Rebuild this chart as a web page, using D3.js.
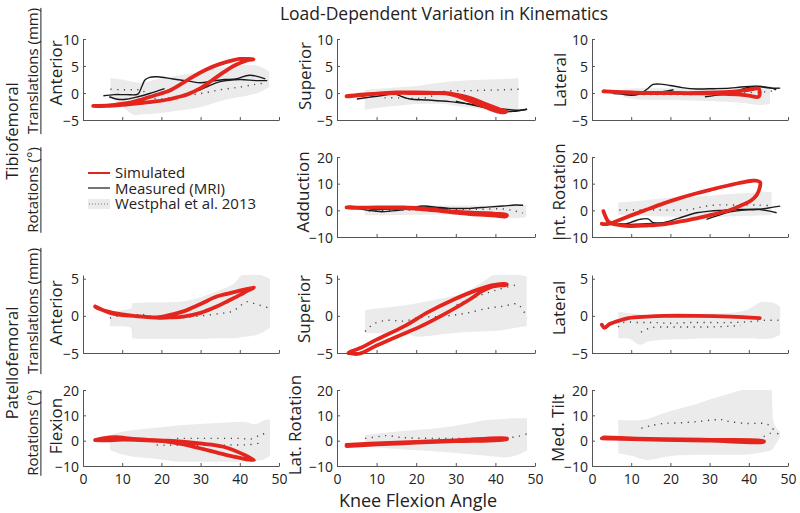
<!DOCTYPE html>
<html><head><meta charset="utf-8">
<script src="https://cdn.jsdelivr.net/npm/d3@7"></script>
<style>
body{margin:0;background:#fff}
svg{display:block}
text{font-family:"Open Sans",sans-serif;fill:#222}
</style>
</head><body><svg id="c" width="800" height="513"></svg>
<script>
// ---------- tick labels ----------
const xTicks = [0,10,20,30,40,50];
const yTicksTrans1 = [-5,0,5,10];
const yTicksRot = [-10,0,10,20];
const yTicksTrans2 = [-5,0,5];

// ---------- Tibiofemoral Anterior ----------
const tfAntBand = [[7,-0.7,2.8],[10,-2.5,2.5],[13.5,-4.1,2.0],[15,-4.0,1.9],[18.6,-3.8,2.5],[24,-3.3,3.2],[30,-2.6,4.0],[36,-1.3,4.8],[43,-0.3,5.2],[45.5,0.3,4.8],[47.5,1.1,4.0]];
const tfAntMean = [[7,0.7],[10,0.6],[13,0.6],[15,0.5],[17,-0.7],[19,-1.1],[25,-0.6],[30,-0.1],[35,0.6],[40,1.1],[44,1.6],[47,1.9]];
const tfAntMeas1 = [[5.2,-0.5],[8,-0.3],[11,-0.3],[14,-0.2],[15,1.2],[15.8,2.4],[17,2.9],[19,3.0],[23,2.6],[27,2.2],[30,1.9],[33,2.2],[36,2.5],[39,2.6],[42.5,3.3],[46.5,2.6]];
const tfAntMeas2 = [[6.7,-0.7],[8.5,-1.1],[10.4,-1.2],[14,-0.7],[17,-0.1],[20.8,0.8]];
const tfAntMeas3 = [[29.6,0.5],[32,1.3],[35,2.1],[40,2.5],[44,2.3],[47,2.3]];
const tfAntSim = [[2.6,-2.4],[6,-2.4],[10,-2.2],[14,-1.9],[18,-1.6],[21.3,-1.25],[24,-0.8],[26.5,-0.3],[30,0.9],[33.2,2.5],[36,3.9],[38.4,5.0],[40.5,5.7],[42,6.1],[43.5,6.25],[42,6.3],[40,6.3],[38.4,6.1],[35,5.4],[31.6,4.4],[28,3.0],[25.6,1.9],[22,0.4],[18,-0.5],[15,-1.2],[12,-1.8],[8,-2.2],[4,-2.4],[2.6,-2.4]];

// ---------- Tibiofemoral Superior ----------
const tfSupBand = [[7,-3.1,0.6],[12,-2.6,0.9],[17,-2.2,1.1],[22,-2.0,1.5],[26,-2.0,1.9],[30,-2.4,2.2],[34.5,-2.8,2.4],[38,-3.2,2.5],[42,-3.7,2.6],[45.8,-3.4,2.8]];
const tfSupMean = [[12,-0.9],[16,-0.9],[20,-1.0],[23,-0.8],[27,0.3],[32,0.4],[37,0.5],[42,0.6],[46,0.7]];
const tfSupMeas1 = [[5,-1.1],[8,-0.8],[11,-0.5],[14.6,-0.2],[16.5,-0.7],[18.4,-1.1],[23,-1.3],[28.5,-1.6],[33,-2.0],[37,-2.4],[40,-2.8],[43.7,-3.1],[46,-3.2],[48,-3.0]];
const tfSupMeas2 = [[30,-1.5],[34,-2.2],[38,-2.8],[41.5,-3.4],[44.5,-3.4],[48,-3.0]];
const tfSupSim = [[2.4,-0.6],[6,-0.3],[10,-0.1],[15,0],[20,0],[23.5,0],[27,0],[30,-0.3],[33.5,-0.9],[36,-1.6],[38.5,-2.3],[41,-3.0],[42.8,-3.4],[42,-3.6],[40,-3.3],[37.5,-2.6],[35,-1.9],[32,-1.0],[28.5,-0.2],[25,0],[20,0.1],[15,0.1],[10,-0.1],[6,-0.4],[3,-0.6]];

// ---------- Tibiofemoral Lateral ----------
const tfLatBand = [[8,-0.8,0.8],[12.7,-1.25,0.9],[20,-1.3,0.9],[30,-1.5,1.0],[38,-1.8,1.1],[43,-2.2,1.1],[45.4,-2.0,0.9]];
const tfLatMean = [[8,-0.3],[15,-0.3],[22,-0.3],[30,-0.2],[38,0],[44,0.2],[47,0.5]];
const tfLatMeas1 = [[4.6,0.5],[7,0],[9.3,-0.4],[12,-0.2],[14,0.7],[15.6,1.6],[18,1.6],[19.9,1.4],[23,1.0],[26.7,0.75],[31,0.8],[35.2,0.9],[38,1.1],[42,1.25],[45.4,0.9],[48,0.9]];
const tfLatMeas2 = [[5.4,-0.1],[9,-0.2],[12,-0.2],[16,0],[20.8,0.6]];
const tfLatMeas3 = [[28.8,-0.7],[32,-0.4],[35.2,0],[38,0.6],[40.3,1.1],[43,1.2],[45.4,1.0],[47,0.6]];
const tfLatSim = [[2.9,0.3],[6,0.2],[10,0.1],[15,0],[20,0],[26.7,0],[32,0.1],[36.9,0.3],[40,0.6],[42.5,0.8],[42.8,0.2],[42.5,-0.7],[40,-0.5],[37,-0.25],[32,-0.1],[25,-0.05],[18,0],[10,0.05],[5,0.2],[3,0.3]];

// ---------- Tibiofemoral Adduction ----------
const tfAddBand = [[7,-1.8,1.5],[12,-1.8,1.6],[20,-1.7,1.8],[28,-1.6,1.8],[35,-1.8,1.8],[42,-2.2,1.8],[45,-3.0,2.0],[47.8,-2.5,2.0]];
const tfAddMean = [[8,-0.3],[15,0],[22,0.2],[30,0.3],[36,0.4],[42,0.5],[45,-0.3],[47,-1.0]];
const tfAddMeas1 = [[5,0.75],[8,0],[10.9,-0.5],[14,-0.2],[16.8,0.3],[19,1.0],[21.9,1.6],[25,1.2],[28.5,0.75],[33.5,0.75],[38,1.2],[41.9,1.6],[45,2.0],[47,1.9]];
const tfAddMeas2 = [[8.2,0.1],[12,0.4],[16,0.6],[20,1.0],[24,0.9],[28,0.5]];
const tfAddSim = [[2.4,1.1],[5,0.9],[10,1.1],[16.8,1.1],[21,0.75],[25,0.2],[29.5,-0.5],[33,-0.8],[37.9,-1.1],[40,-1.3],[42.9,-1.75],[42.5,-2.3],[40,-2.0],[36,-1.6],[31,-1.0],[26,-0.2],[21,0.5],[15,0.9],[10,1.0],[5,1.0],[3,1.2]];

// ---------- Tibiofemoral Int. Rotation ----------
const tfIntBand = [[6.7,-1.75,2.9],[12,-2.0,3.5],[18.3,-2.3,4.5],[24,-2.5,5.0],[28.3,-2.6,5.4],[31,-2.5,5.7],[36,-2.2,6.2],[41,-2.0,6.6],[45.8,-1.75,7.0]];
const tfIntMean = [[7,0.1],[12,0.1],[17,0.1],[22,0.1],[25,0.3],[28,1.3],[32,2.0],[37,2.0],[42,2.0],[45,1.8]];
const tfIntMeas1 = [[3.7,-5.1],[6,-5.0],[8.8,-5.0],[10.5,-4.2],[12.2,-3.4],[14.3,-3.2],[15.6,-4.6],[18,-4.8],[20.7,-5.0]];
const tfIntMeas2 = [[4,-5.2],[10,-5.3],[14,-5.0],[18.2,-4.6],[22,-3.0],[26.7,-0.9],[30,-0.3],[33.5,0],[38,0.3],[42,0.4],[45,-0.2],[47.1,-0.9]];
const tfIntMeas3 = [[29.2,-3.4],[32,-2.0],[35.2,-0.6],[38,0],[42,0.3],[45,0.9],[48,1.6]];
const tfIntSim = [[2.9,-0.3],[3.5,-2.5],[4.2,-4.3],[6,-5.3],[9.7,-5.9],[14,-5.7],[18.2,-5.25],[22,-4.3],[26.7,-3.0],[31,-1.5],[35.2,0.1],[38,1.8],[40.5,3.6],[42,5.7],[42.8,8.5],[42.9,10.5],[42,11.1],[40.9,11.1],[38,10.4],[35.2,9.5],[31,8.0],[26.7,6.4],[22,4.4],[18.3,2.6],[14,0.3],[10,-1.9],[7,-3.6],[4.6,-4.9],[3,-5.2],[2.5,-5.0]];

// ---------- Patellofemoral Anterior ----------
const pfAntBand = [[6.9,-1.4,0.6],[10,-1.4,0.8],[12.3,-1.6,1.0],[12.6,-3.0,1.7],[16,-3.1,1.8],[20,-3.1,1.8],[25,-3.1,1.9],[30,-3.1,2.5],[35,-3.0,3.5],[38.6,-3.0,4.4],[41,-2.8,5.6],[44,-2.6,5.6],[47.7,-1.6,5.0]];
const pfAntMean = [[6.9,-0.3],[9,0],[12.9,0.1],[15,0.2],[18,-0.1],[21.7,-0.3],[26,-0.2],[30,0],[34.7,0.3],[38,0.6],[39.8,1.2],[41.6,1.9],[44,1.6],[47.8,1.0]];
const pfAntSim = [[3.1,1.25],[5,0.8],[6.9,0.4],[10,0.1],[12.9,0],[15,-0.1],[18.8,-0.25],[22,-0.2],[25.6,-0.1],[30,0.4],[34.1,1.25],[37,2.0],[40.2,2.85],[42,3.4],[43.6,3.8],[42.7,3.7],[40,3.4],[37,3.0],[34.1,2.6],[30,1.6],[25.6,0.6],[22,0.1],[18.8,-0.2],[15,-0.1],[12.9,0],[10,0.2],[6.9,0.5],[4,1.0],[3.1,1.25]];

// ---------- Patellofemoral Superior ----------
const pfSupBand = [[7.1,-2.3,0.8],[12,-2.3,1.1],[16.8,-2.3,1.4],[20.2,-2.8,1.7],[26,-2.5,2.3],[32,-2.2,3.1],[36,-2.1,4.3],[40.4,-2.0,5.6],[44,-1.7,5.6],[47.9,-1.4,5.3]];
const pfSupMean = [[7.1,-2.1],[9.2,-1.1],[12.6,-0.6],[16.8,-0.7],[21,-0.2],[25,-0.1],[29.5,0.1],[33,0.4],[37.9,1.0],[42,1.3],[45.5,1.6],[46.7,1.0],[48,-0.3]];
const pfSupMean2 = [[30.2,1.5],[35.3,2.6],[40.4,3.5],[45.5,4.2]];
const pfSupSim = [[2.9,-5.0],[5.6,-5.1],[10,-4.0],[15.5,-2.7],[21,-1.45],[27,0.2],[33.5,2.2],[36.5,3.3],[39,3.9],[42.9,4.2],[42.2,4.3],[39,4.1],[35.4,3.5],[29.5,2.2],[23,0.5],[16.8,-1.45],[10,-3.2],[6,-4.3],[3.5,-4.8],[2.9,-5.0]];

// ---------- Patellofemoral Lateral ----------
const pfLatBand = [[6.7,-3.0,0.6],[9,-3.0,0.4],[12.4,-3.9,0.2],[14,-3.5,0.1],[18.2,-3.2,0.1],[25,-3.1,0.2],[30,-3.0,0.3],[35.2,-3.0,0.4],[40,-3.0,0.9],[43.6,-3.1,1.9],[46,-3.0,1.8],[48,-2.5,1.2]];
const pfLatMean = [[6.7,-1.5],[8,-0.9],[12,-0.9],[16,-0.9],[20,-1.0],[25,-0.9],[30,-0.9],[35,-0.9],[40,-0.8],[44,-0.6],[48,-0.6]];
const pfLatMean2 = [[12.5,-2.2],[15,-1.6],[20,-1.5],[25,-1.5],[30,-1.5],[35,-1.4],[38,-1.3]];
const pfLatSim = [[2.5,-1.2],[3.2,-1.6],[4.5,-1.1],[6,-0.8],[9.3,-0.3],[14,-0.1],[18.3,0],[26.7,0],[35.2,-0.1],[42.8,-0.3]];

// ---------- Patellofemoral Flexion ----------
const pfFlxBand = [[6.9,-3.7,2.2],[10,-5.5,3.5],[12.9,-6.3,4.2],[18,-7.0,5.0],[25.5,-8.3,6.2],[32,-8.3,6.8],[40.9,-8.3,7.5],[44,-8.0,6.5],[46,-7.5,8.0],[47.7,-6.0,8.4]];
const pfFlxMean = [[24,0.9],[28,0.9],[32,0.9],[36,0.9],[40,0.9],[43,0.7],[45.5,2.5],[47.7,3.0]];
const pfFlxMean2 = [[18.8,-1.7],[22,-1.8],[26,-1.8],[30,-1.8],[34,-1.8],[38,-1.7],[42,-1.6],[46,-0.8]];
const pfFlxSim = [[3.1,0.2],[5,0.9],[8.3,1.4],[12.9,0.7],[19.7,0.1],[23.8,-0.2],[29.8,-1.1],[35.8,-2.4],[41.2,-5.6],[43.6,-7.6],[42.5,-7.5],[38.4,-6.3],[34,-4.6],[29.8,-3.0],[25,-1.3],[21,-0.3],[15,0.2],[10,0.4],[6,0.1],[3.1,0.2]];

// ---------- Patellofemoral Lat. Rotation ----------
const pfLrotBand = [[7.1,-2.4,2.2],[12.6,-3.0,3.2],[18,-3.6,4.0],[25.3,-4.3,4.9],[32,-5.2,6.5],[37.9,-6.0,8.2],[42,-6.6,8.6],[45,-6.0,8.8],[48,-3.9,8.8]];
const pfLrotMean = [[7.1,0.9],[10,1.5],[12.6,2.0],[16,1.3],[20,1.0],[25,0.9],[30,0.9],[35,0.9],[40,1.0],[44,1.3],[46,1.8],[48,2.7]];
const pfLrotSim = [[2.4,-1.7],[10,-1.1],[20,-0.5],[30,0.1],[42.9,0.9],[42.9,0.6],[30,-0.2],[20,-0.8],[10,-1.5],[2.4,-2.1]];

// ---------- Patellofemoral Med. Tilt ----------
const pfTiltBand = [[6.7,-5.0,8.2],[10,-6.0,8.0],[13.9,-7.6,8.5],[18.2,-6.5,10.8],[22,-5.8,12.5],[26.7,-5.6,14.5],[31,-5.6,16.7],[35,-5.6,18.5],[38.6,-5.6,20],[42,-5.0,20],[45.8,-3.7,20],[46.2,-3.0,8],[48,1.5,3.5]];
const pfTiltMean = [[12.6,4.9],[15,5.9],[18.2,6.8],[22,7.0],[26.7,7.5],[31,8.2],[33,8.3],[35.2,7.5],[39.5,6.8],[43.8,6.8],[45.4,5.9],[47.1,3.0],[48,2.3]];
const pfTiltMean2 = [[43.8,1.6],[45.5,2.9],[47,3.2]];
const pfTiltSim = [[2.5,0.9],[5,0.8],[10,0.6],[18.2,0.3],[30,0],[43.8,-0.5],[43.8,-0.2],[30,0.3],[18,0.6],[10,0.9],[3,1.3]];

// ---------- layout ----------
const colsX = [[83,279],[337,535],[592,788]];
const rowsY = [
  {top:39, bot:120, dom:[-5,10], ticks:yTicksTrans1},
  {top:157, bot:237, dom:[-10,20], ticks:yTicksRot},
  {top:275, bot:353, dom:[-5,5.5], ticks:yTicksTrans2},
  {top:390, bot:466, dom:[-10,20], ticks:yTicksRot}
];
const panels = [
  {r:0,c:0,label:"Anterior",lx:56,ly:73,band:tfAntBand,mean:[tfAntMean],meas:[tfAntMeas1,tfAntMeas2,tfAntMeas3],sim:tfAntSim},
  {r:0,c:1,label:"Superior",lx:305,ly:76,band:tfSupBand,mean:[tfSupMean],meas:[tfSupMeas1,tfSupMeas2],sim:tfSupSim},
  {r:0,c:2,label:"Lateral",lx:560,ly:80,band:tfLatBand,mean:[tfLatMean],meas:[tfLatMeas1,tfLatMeas2,tfLatMeas3],sim:tfLatSim},
  {r:1,c:1,label:"Adduction",lx:303,ly:192,band:tfAddBand,mean:[tfAddMean],meas:[tfAddMeas1,tfAddMeas2],sim:tfAddSim},
  {r:1,c:2,label:"Int. Rotation",lx:559,ly:192,band:tfIntBand,mean:[tfIntMean],meas:[tfIntMeas1,tfIntMeas2,tfIntMeas3],sim:tfIntSim},
  {r:2,c:0,label:"Anterior",lx:56,ly:313,band:pfAntBand,mean:[pfAntMean],meas:[],sim:pfAntSim},
  {r:2,c:1,label:"Superior",lx:304,ly:309,band:pfSupBand,mean:[pfSupMean,pfSupMean2],meas:[],sim:pfSupSim},
  {r:2,c:2,label:"Lateral",lx:559,ly:308,band:pfLatBand,mean:[pfLatMean,pfLatMean2],meas:[],sim:pfLatSim},
  {r:3,c:0,label:"Flexion",lx:56,ly:426,band:pfFlxBand,mean:[pfFlxMean,pfFlxMean2],meas:[],sim:pfFlxSim},
  {r:3,c:1,label:"Lat. Rotation",lx:295,ly:425,band:pfLrotBand,mean:[pfLrotMean],meas:[],sim:pfLrotSim},
  {r:3,c:2,label:"Med. Tilt",lx:558,ly:428,band:pfTiltBand,mean:[pfTiltMean,pfTiltMean2],meas:[],sim:pfTiltSim}
];

const RED = "#e3251d", BAND = "#ebebeb", AX = "#555";
const svg = d3.select("#c");

panels.forEach((p,i) => {
  const row = rowsY[p.r], cx = colsX[p.c];
  const x = d3.scaleLinear().domain([0,50]).range(cx);
  const y = d3.scaleLinear().domain(row.dom).range([row.bot,row.top]);
  const g = svg.append("g");
  const cid = "clip"+i;
  svg.append("clipPath").attr("id",cid).append("rect")
    .attr("x",cx[0]).attr("y",row.top).attr("width",cx[1]-cx[0]).attr("height",row.bot-row.top);
  const area = d3.area().x(d=>x(d[0])).y0(d=>y(d[1])).y1(d=>y(d[2])).curve(d3.curveMonotoneX);
  g.append("path").datum(p.band).attr("d",area).attr("fill",BAND).attr("clip-path",`url(#${cid})`);
  const line = d3.line().x(d=>x(d[0])).y(d=>y(d[1])).curve(d3.curveCatmullRom.alpha(0.5));
  p.mean.forEach(m => g.append("path").datum(m).attr("d",line).attr("fill","none")
    .attr("stroke","#444").attr("stroke-width",1.4).attr("stroke-dasharray","1.2,5.5"));
  p.meas.forEach(m => g.append("path").datum(m).attr("d",line).attr("fill","none")
    .attr("stroke","#1a1a1a").attr("stroke-width",1.4));
  g.append("path").datum(p.sim).attr("d",line).attr("fill","none")
    .attr("stroke",RED).attr("stroke-width",3.8).attr("stroke-linejoin","round").attr("stroke-linecap","round");

  // axes
  const ya = g.append("g").attr("transform",`translate(${cx[0]},0)`)
    .call(d3.axisLeft(y).tickValues(row.ticks).tickSize(-3).tickSizeOuter(0).tickPadding(4));
  const xa = g.append("g").attr("transform",`translate(0,${row.bot})`)
    .call(d3.axisBottom(x).tickValues(xTicks).tickSize(-3).tickSizeOuter(0).tickPadding(8)
      .tickFormat(p.r===3 ? d3.format("d") : ""));
  [ya,xa].forEach(a => {
    a.select(".domain").attr("stroke",AX);
    a.selectAll(".tick line").attr("stroke",AX);
    a.selectAll("text").attr("font-size",14).attr("fill","#222").attr("font-family","Open Sans, sans-serif");
  });
  ya.selectAll("text").attr("dy","0.36em");

  g.append("text").attr("transform",`translate(${p.lx},${p.ly}) rotate(-90)`)
    .attr("text-anchor","middle").attr("dy","0.36em").attr("font-size",17).text(p.label);
});

// title and x label
svg.append("text").attr("x",444).attr("y",19.5).attr("text-anchor","middle").attr("font-size",17.5)
  .text("Load-Dependent Variation in Kinematics");
svg.append("text").attr("x",418).attr("y",507).attr("text-anchor","middle").attr("font-size",18)
  .text("Knee Flexion Angle");

// group labels
function vlabel(txt, cx, cy, size, underline){
  const t = svg.append("text").attr("transform",`translate(${cx},${cy}) rotate(-90)`)
    .attr("text-anchor","middle").attr("dy","0.36em").attr("font-size",size).text(txt);
  if(underline){
    const len = t.node().getComputedTextLength();
    const ux = cx + 0.36*size + 2.5;
    svg.append("line").attr("x1",ux).attr("x2",ux).attr("y1",cy-len/2).attr("y2",cy+len/2)
      .attr("stroke","#222").attr("stroke-width",1);
  }
}
vlabel("Tibiofemoral",12.5,131,16.5,false);
vlabel("Translations (mm)",33,71,15,true);
vlabel("Rotations (°)",33,190,15,true);
vlabel("Patellofemoral",12.5,363,16.5,false);
vlabel("Translations (mm)",33,311,15,true);
vlabel("Rotations (°)",33,433,15,true);

// legend
const leg = svg.append("g");
leg.append("line").attr("x1",88).attr("x2",110).attr("y1",173).attr("y2",173).attr("stroke",RED).attr("stroke-width",2);
leg.append("line").attr("x1",88).attr("x2",110).attr("y1",188).attr("y2",188).attr("stroke","#1a1a1a").attr("stroke-width",1.2);
leg.append("rect").attr("x",88).attr("y",199).attr("width",22).attr("height",10).attr("fill",BAND);
leg.append("line").attr("x1",89).attr("x2",110).attr("y1",204).attr("y2",204).attr("stroke","#777")
  .attr("stroke-width",1).attr("stroke-dasharray","1,2");
leg.append("text").attr("x",115).attr("y",178).attr("font-size",15).text("Simulated");
leg.append("text").attr("x",115).attr("y",193.5).attr("font-size",15).text("Measured (MRI)");
leg.append("text").attr("x",115).attr("y",209).attr("font-size",15).text("Westphal et al. 2013");
</script></body></html>
